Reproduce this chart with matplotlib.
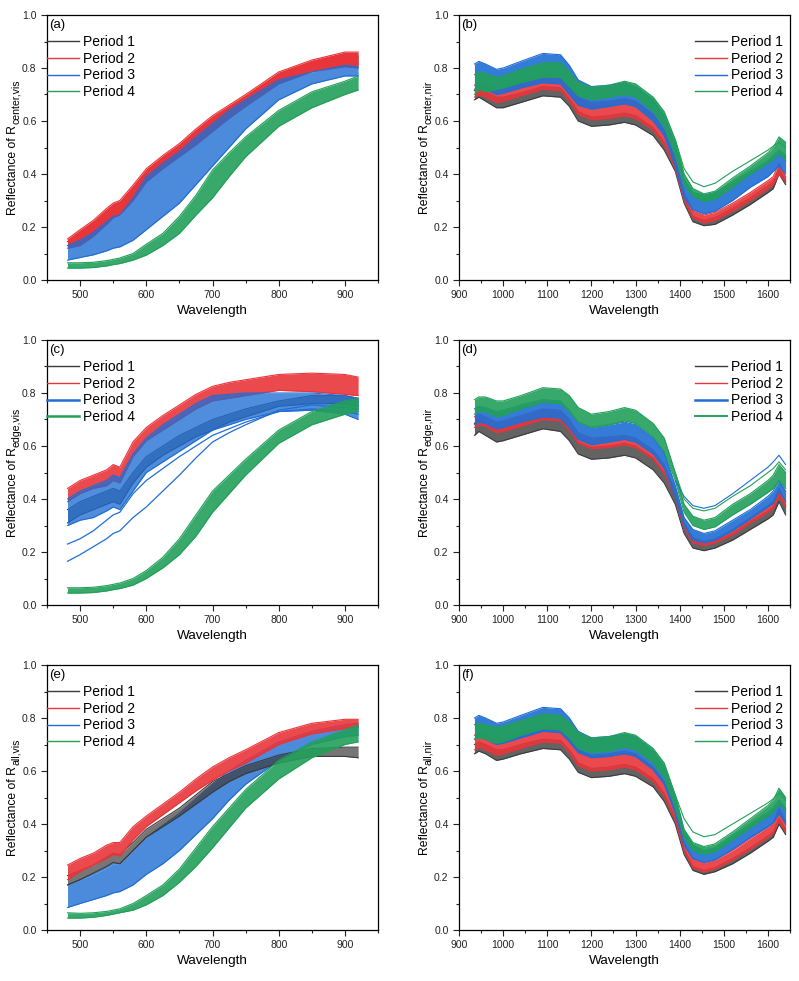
import numpy as np
import matplotlib
matplotlib.use('Agg')
from matplotlib import pyplot as plt
from matplotlib.lines import Line2D

plt.rcParams['font.family'] = ['Liberation Sans', 'DejaVu Sans']
plt.rcParams['mathtext.default'] = 'regular'

periods = ['Period 1', 'Period 2', 'Period 3', 'Period 4']
colores = ['#3c3c3c', '#e8353a', '#1f6ed4', '#22a05a']

# longitudes de onda
wl_vis = [481, 500, 520, 540, 550, 560, 580, 600, 625, 650, 675, 700, 725, 750, 800, 850, 900, 920]
wl_nir = [935, 945, 960, 985, 1000, 1040, 1090, 1130, 1150, 1170, 1200, 1240, 1275, 1300,
          1340, 1365, 1390, 1410, 1430, 1455, 1480, 1520, 1560, 1600, 1612, 1625, 1640]
wl_nir_cola = [1390, 1410, 1430, 1455, 1480, 1520, 1560, 1600, 1612, 1625, 1640]

# (a) R_center,vis : bordes inferior / superior de cada periodo
a_p1_lo = [0.13, 0.15, 0.185, 0.23, 0.25, 0.26, 0.32, 0.385, 0.435, 0.48, 0.53, 0.575, 0.625, 0.67, 0.755, 0.80, 0.82, 0.815]
a_p1_hi = [0.145, 0.17, 0.205, 0.25, 0.275, 0.285, 0.34, 0.405, 0.455, 0.50, 0.55, 0.60, 0.645, 0.685, 0.77, 0.815, 0.845, 0.845]
a_p2_lo = [0.12, 0.13, 0.165, 0.21, 0.235, 0.245, 0.30, 0.37, 0.42, 0.465, 0.51, 0.56, 0.61, 0.655, 0.74, 0.786, 0.805, 0.80]
a_p2_hi = [0.155, 0.19, 0.225, 0.27, 0.29, 0.30, 0.358, 0.42, 0.47, 0.515, 0.57, 0.62, 0.66, 0.70, 0.785, 0.83, 0.86, 0.86]
a_p3_lo = [0.075, 0.085, 0.095, 0.11, 0.12, 0.125, 0.15, 0.19, 0.24, 0.29, 0.36, 0.43, 0.50, 0.57, 0.68, 0.74, 0.77, 0.77]
a_p3_hi = [0.13, 0.15, 0.18, 0.22, 0.24, 0.245, 0.31, 0.39, 0.44, 0.485, 0.54, 0.59, 0.64, 0.68, 0.755, 0.785, 0.81, 0.805]
a_p4_lo = [0.045, 0.045, 0.047, 0.053, 0.058, 0.062, 0.075, 0.094, 0.13, 0.176, 0.245, 0.31, 0.39, 0.465, 0.58, 0.65, 0.70, 0.717]
a_p4_hi = [0.065, 0.065, 0.067, 0.073, 0.078, 0.083, 0.10, 0.135, 0.176, 0.24, 0.32, 0.415, 0.48, 0.54, 0.64, 0.71, 0.75, 0.77]

# (b) R_center,nir
b_p1_lo = [0.68, 0.69, 0.675, 0.65, 0.65, 0.67, 0.695, 0.69, 0.655, 0.60, 0.58, 0.585, 0.595, 0.585,
           0.545, 0.49, 0.41, 0.29, 0.22, 0.205, 0.21, 0.245, 0.285, 0.33, 0.345, 0.40, 0.36]
b_p1_hi = [0.715, 0.72, 0.71, 0.69, 0.69, 0.705, 0.73, 0.725, 0.685, 0.635, 0.615, 0.62, 0.63, 0.62,
           0.575, 0.52, 0.43, 0.31, 0.24, 0.225, 0.235, 0.27, 0.31, 0.355, 0.37, 0.42, 0.375]
b_p2_lo = [0.69, 0.70, 0.69, 0.67, 0.675, 0.695, 0.72, 0.715, 0.675, 0.625, 0.605, 0.61, 0.62, 0.61,
           0.565, 0.51, 0.42, 0.30, 0.235, 0.215, 0.225, 0.26, 0.30, 0.345, 0.36, 0.40, 0.37]
b_p2_hi = [0.735, 0.745, 0.735, 0.72, 0.725, 0.745, 0.77, 0.765, 0.73, 0.69, 0.67, 0.675, 0.685, 0.675,
           0.625, 0.565, 0.455, 0.33, 0.26, 0.245, 0.255, 0.29, 0.33, 0.375, 0.39, 0.44, 0.39]
b_p3_lo = [0.72, 0.73, 0.72, 0.70, 0.705, 0.725, 0.745, 0.74, 0.70, 0.66, 0.645, 0.655, 0.665, 0.655,
           0.60, 0.545, 0.43, 0.31, 0.265, 0.25, 0.26, 0.30, 0.35, 0.39, 0.41, 0.43, 0.40]
b_p3_hi = [0.815, 0.825, 0.815, 0.795, 0.80, 0.825, 0.855, 0.85, 0.81, 0.755, 0.73, 0.735, 0.745, 0.73,
           0.68, 0.62, 0.51, 0.38, 0.33, 0.32, 0.33, 0.37, 0.41, 0.45, 0.47, 0.49, 0.47]
b_p4_lo = [0.70, 0.72, 0.71, 0.72, 0.725, 0.745, 0.765, 0.765, 0.73, 0.695, 0.68, 0.69, 0.70, 0.69,
           0.635, 0.58, 0.47, 0.36, 0.315, 0.295, 0.305, 0.35, 0.40, 0.44, 0.455, 0.48, 0.45]
b_p4_hi = [0.775, 0.785, 0.78, 0.765, 0.77, 0.795, 0.82, 0.82, 0.785, 0.745, 0.728, 0.735, 0.75, 0.74,
           0.69, 0.635, 0.53, 0.40, 0.345, 0.325, 0.335, 0.385, 0.43, 0.48, 0.50, 0.54, 0.52]
b_p4_extra = [0.53, 0.42, 0.37, 0.352, 0.365, 0.41, 0.45, 0.49, 0.505, 0.52, 0.50]

# (c) R_edge,vis
c_p1_lo = [0.31, 0.34, 0.36, 0.38, 0.39, 0.38, 0.46, 0.52, 0.565, 0.60, 0.635, 0.66, 0.69, 0.71, 0.75, 0.76, 0.76, 0.75]
c_p1_hi = [0.36, 0.39, 0.41, 0.43, 0.44, 0.43, 0.50, 0.56, 0.60, 0.64, 0.67, 0.70, 0.72, 0.74, 0.77, 0.79, 0.79, 0.78]
c_p2_lo = [0.39, 0.42, 0.44, 0.45, 0.47, 0.46, 0.56, 0.62, 0.66, 0.70, 0.74, 0.77, 0.78, 0.79, 0.81, 0.805, 0.795, 0.79]
c_p2_hi = [0.44, 0.47, 0.49, 0.51, 0.53, 0.52, 0.616, 0.67, 0.715, 0.755, 0.795, 0.825, 0.84, 0.85, 0.87, 0.875, 0.87, 0.86]
c_p3_lo = [0.30, 0.32, 0.33, 0.355, 0.37, 0.36, 0.43, 0.50, 0.54, 0.58, 0.62, 0.66, 0.68, 0.70, 0.73, 0.735, 0.72, 0.70]
c_p3_hi = [0.40, 0.43, 0.45, 0.47, 0.49, 0.48, 0.57, 0.63, 0.68, 0.72, 0.76, 0.79, 0.795, 0.80, 0.80, 0.80, 0.79, 0.78]
c_p3_out1 = [0.23, 0.25, 0.28, 0.32, 0.34, 0.35, 0.42, 0.47, 0.515, 0.56, 0.60, 0.64, 0.665, 0.69, 0.73, 0.74, 0.73, 0.72]
c_p3_out2 = [0.165, 0.19, 0.22, 0.25, 0.27, 0.28, 0.33, 0.37, 0.43, 0.49, 0.555, 0.615, 0.65, 0.68, 0.735, 0.755, 0.745, 0.74]
c_p4_lo = [0.045, 0.045, 0.047, 0.053, 0.058, 0.062, 0.075, 0.10, 0.14, 0.19, 0.26, 0.35, 0.42, 0.49, 0.61, 0.68, 0.72, 0.73]
c_p4_hi = [0.065, 0.065, 0.067, 0.073, 0.078, 0.083, 0.10, 0.13, 0.18, 0.25, 0.34, 0.43, 0.49, 0.55, 0.66, 0.73, 0.77, 0.78]

# (d) R_edge,nir
d_p1_lo = [0.64, 0.655, 0.64, 0.615, 0.62, 0.64, 0.665, 0.655, 0.62, 0.57, 0.55, 0.555, 0.565, 0.555,
           0.51, 0.46, 0.38, 0.27, 0.215, 0.205, 0.215, 0.245, 0.285, 0.325, 0.34, 0.39, 0.34]
d_p1_hi = [0.685, 0.70, 0.685, 0.66, 0.665, 0.685, 0.705, 0.70, 0.665, 0.615, 0.595, 0.60, 0.61, 0.60,
           0.555, 0.50, 0.41, 0.30, 0.24, 0.23, 0.24, 0.27, 0.315, 0.355, 0.37, 0.42, 0.375]
d_p2_lo = [0.67, 0.68, 0.675, 0.65, 0.655, 0.675, 0.70, 0.695, 0.66, 0.61, 0.59, 0.595, 0.605, 0.595,
           0.55, 0.495, 0.41, 0.29, 0.235, 0.225, 0.235, 0.265, 0.31, 0.35, 0.365, 0.41, 0.37]
d_p2_hi = [0.71, 0.72, 0.71, 0.69, 0.695, 0.715, 0.74, 0.735, 0.70, 0.65, 0.63, 0.635, 0.64, 0.63,
           0.585, 0.53, 0.43, 0.31, 0.255, 0.24, 0.25, 0.285, 0.33, 0.375, 0.39, 0.44, 0.39]
d_p3_lo = [0.68, 0.69, 0.685, 0.665, 0.67, 0.69, 0.71, 0.705, 0.67, 0.625, 0.605, 0.615, 0.625, 0.615,
           0.57, 0.515, 0.41, 0.30, 0.245, 0.235, 0.245, 0.28, 0.325, 0.37, 0.385, 0.43, 0.39]
d_p3_hi = [0.74, 0.75, 0.745, 0.73, 0.735, 0.755, 0.775, 0.77, 0.735, 0.69, 0.67, 0.68, 0.69, 0.68,
           0.63, 0.575, 0.45, 0.33, 0.285, 0.27, 0.28, 0.32, 0.36, 0.41, 0.43, 0.47, 0.43]
d_p3_extra = [0.47, 0.41, 0.375, 0.365, 0.375, 0.42, 0.47, 0.52, 0.54, 0.565, 0.53]
d_p4_lo = [0.72, 0.73, 0.73, 0.71, 0.715, 0.74, 0.765, 0.76, 0.73, 0.69, 0.67, 0.68, 0.695, 0.685,
           0.635, 0.58, 0.47, 0.35, 0.30, 0.285, 0.295, 0.34, 0.38, 0.425, 0.44, 0.47, 0.44]
d_p4_hi = [0.775, 0.785, 0.785, 0.77, 0.77, 0.79, 0.82, 0.815, 0.79, 0.745, 0.72, 0.73, 0.745, 0.735,
           0.685, 0.63, 0.50, 0.38, 0.335, 0.32, 0.33, 0.38, 0.42, 0.47, 0.49, 0.53, 0.50]
d_p4_extra = [0.50, 0.40, 0.365, 0.355, 0.365, 0.41, 0.45, 0.50, 0.515, 0.54, 0.51]

# (e) R_all,vis
e_p1_lo = [0.17, 0.19, 0.215, 0.24, 0.255, 0.25, 0.30, 0.35, 0.39, 0.43, 0.475, 0.52, 0.56, 0.59, 0.63, 0.655, 0.655, 0.65]
e_p1_hi = [0.205, 0.225, 0.245, 0.275, 0.29, 0.285, 0.33, 0.38, 0.42, 0.46, 0.51, 0.56, 0.59, 0.62, 0.66, 0.685, 0.69, 0.69]
e_p2_lo = [0.19, 0.22, 0.245, 0.27, 0.285, 0.28, 0.34, 0.39, 0.435, 0.48, 0.525, 0.565, 0.60, 0.63, 0.70, 0.74, 0.76, 0.765]
e_p2_hi = [0.245, 0.27, 0.29, 0.32, 0.33, 0.33, 0.39, 0.43, 0.475, 0.52, 0.57, 0.615, 0.65, 0.68, 0.745, 0.78, 0.795, 0.795]
e_p3_lo = [0.085, 0.10, 0.115, 0.13, 0.14, 0.145, 0.17, 0.21, 0.25, 0.30, 0.36, 0.42, 0.49, 0.55, 0.64, 0.70, 0.73, 0.735]
e_p3_hi = [0.17, 0.19, 0.21, 0.235, 0.25, 0.25, 0.30, 0.35, 0.395, 0.44, 0.495, 0.55, 0.60, 0.64, 0.71, 0.75, 0.775, 0.78]
e_p4_lo = [0.045, 0.045, 0.048, 0.055, 0.06, 0.065, 0.075, 0.095, 0.13, 0.18, 0.24, 0.31, 0.385, 0.46, 0.57, 0.65, 0.70, 0.71]
e_p4_hi = [0.065, 0.063, 0.065, 0.07, 0.075, 0.08, 0.10, 0.13, 0.17, 0.23, 0.31, 0.39, 0.46, 0.53, 0.64, 0.71, 0.755, 0.775]

# (f) R_all,nir
f_p1_lo = [0.665, 0.675, 0.665, 0.64, 0.645, 0.665, 0.685, 0.68, 0.645, 0.595, 0.575, 0.58, 0.59, 0.58,
           0.54, 0.485, 0.40, 0.285, 0.225, 0.21, 0.22, 0.25, 0.29, 0.335, 0.35, 0.40, 0.36]
f_p1_hi = [0.70, 0.71, 0.70, 0.68, 0.68, 0.70, 0.72, 0.715, 0.68, 0.63, 0.61, 0.615, 0.625, 0.615,
           0.57, 0.515, 0.425, 0.305, 0.24, 0.225, 0.235, 0.27, 0.31, 0.355, 0.37, 0.42, 0.38]
f_p2_lo = [0.68, 0.69, 0.68, 0.66, 0.665, 0.685, 0.71, 0.705, 0.67, 0.62, 0.60, 0.605, 0.615, 0.605,
           0.56, 0.505, 0.415, 0.30, 0.235, 0.22, 0.23, 0.265, 0.305, 0.35, 0.365, 0.41, 0.37]
f_p2_hi = [0.735, 0.745, 0.735, 0.715, 0.72, 0.74, 0.765, 0.76, 0.725, 0.68, 0.66, 0.665, 0.675, 0.665,
           0.615, 0.56, 0.45, 0.33, 0.27, 0.255, 0.265, 0.30, 0.345, 0.39, 0.405, 0.46, 0.41]
f_p3_lo = [0.72, 0.73, 0.72, 0.70, 0.705, 0.725, 0.75, 0.745, 0.71, 0.67, 0.65, 0.655, 0.665, 0.655,
           0.605, 0.55, 0.44, 0.32, 0.27, 0.255, 0.265, 0.305, 0.35, 0.39, 0.405, 0.44, 0.40]
f_p3_hi = [0.80, 0.81, 0.80, 0.78, 0.785, 0.81, 0.84, 0.835, 0.80, 0.75, 0.725, 0.73, 0.74, 0.73,
           0.675, 0.615, 0.50, 0.37, 0.32, 0.30, 0.31, 0.355, 0.40, 0.445, 0.46, 0.49, 0.46]
f_p4_lo = [0.72, 0.725, 0.72, 0.705, 0.71, 0.735, 0.76, 0.755, 0.725, 0.685, 0.67, 0.675, 0.69, 0.68,
           0.63, 0.575, 0.465, 0.35, 0.30, 0.285, 0.295, 0.34, 0.385, 0.43, 0.445, 0.475, 0.45]
f_p4_hi = [0.775, 0.78, 0.775, 0.765, 0.77, 0.79, 0.815, 0.81, 0.785, 0.745, 0.725, 0.73, 0.745, 0.735,
           0.685, 0.63, 0.51, 0.38, 0.33, 0.315, 0.325, 0.37, 0.42, 0.47, 0.49, 0.535, 0.50]
f_p4_extra = [0.51, 0.42, 0.37, 0.352, 0.36, 0.40, 0.44, 0.48, 0.495, 0.52, 0.49]


def banda(ax, x, lo, hi, c, z, alfa=0.9):
    # cada periodo en su propia capa para que tape al anterior
    ax.fill_between(x, lo, hi, color=c, alpha=alfa, lw=0, zorder=z)
    ax.plot(x, lo, '-', color=c, lw=0.8, zorder=z + 0.1)
    ax.plot(x, hi, '-', color=c, lw=0.8, zorder=z + 0.1)


def estilo(ax, vis, etiqueta):
    if vis:
        ax.set_xlim(450, 950)
        ax.set_xticks([500, 600, 700, 800, 900])
        ax.set_xticks(np.arange(450, 951, 50), minor=True)
    else:
        ax.set_xlim(900, 1650)
        ax.set_xticks(np.arange(900, 1601, 100))
        ax.set_xticks(np.arange(900, 1651, 50), minor=True)
    ax.set_ylim(0, 1)
    ax.set_yticks(np.arange(0, 1.01, 0.2))
    ax.set_yticks(np.arange(0, 1.01, 0.1), minor=True)
    ax.yaxis.set_major_formatter(plt.FormatStrFormatter('%.1f'))
    ax.tick_params(which='both', direction='out', top=False, right=False, labelsize=7.5,
                   colors='#222222')
    ax.tick_params(which='major', length=4, width=0.8)
    ax.tick_params(which='minor', length=2, width=0.8)
    for s in ax.spines.values():
        s.set_linewidth(0.9)
        s.set_zorder(10)
    ax.set_xlabel('Wavelength', fontsize=9.7, labelpad=3)
    ax.text(0.006, 0.962, etiqueta, transform=ax.transAxes, fontsize=9.5, va='center', ha='left',
            zorder=10)


def leyenda(ax, vis, anchos):
    h = [Line2D([], [], color=c, lw=w) for c, w in zip(colores, anchos)]
    if vis:
        lg = ax.legend(h, periods, loc='upper left', bbox_to_anchor=(0.0, 0.925), frameon=False,
                       fontsize=10, handlelength=2.3, handletextpad=0.3, labelspacing=0.2,
                       borderpad=0, borderaxespad=0)
    else:
        lg = ax.legend(h, periods, loc='upper right', bbox_to_anchor=(0.98, 0.925), frameon=False,
                       fontsize=10, handlelength=2.3, handletextpad=0.3, labelspacing=0.2,
                       borderpad=0, borderaxespad=0)
    lg.set_zorder(20)


fig = plt.figure(figsize=(7.99, 9.81), dpi=100)
izq = [47 / 799, 459 / 799]
ancho = 331 / 799
alto = 265 / 981
bases = [1 - 280 / 981, 1 - 605 / 981, 1 - 930 / 981]

axa = fig.add_axes([izq[0], bases[0], ancho, alto])
axb = fig.add_axes([izq[1], bases[0], ancho, alto])
axc = fig.add_axes([izq[0], bases[1], ancho, alto])
axd = fig.add_axes([izq[1], bases[1], ancho, alto])
axe = fig.add_axes([izq[0], bases[2], ancho, alto])
axf = fig.add_axes([izq[1], bases[2], ancho, alto])

# (a)  el periodo 1 queda tapado por el 2
banda(axa, wl_vis, a_p1_lo, a_p1_hi, colores[0], 1, 0.7)
banda(axa, wl_vis, a_p2_lo, a_p2_hi, colores[1], 2, 1.0)
banda(axa, wl_vis, a_p3_lo, a_p3_hi, colores[2], 3, 0.8)
banda(axa, wl_vis, a_p4_lo, a_p4_hi, colores[3], 4)
estilo(axa, True, '(a)')
leyenda(axa, True, [1, 1, 1, 1])

# (b)
banda(axb, wl_nir, b_p1_lo, b_p1_hi, colores[0], 1, 0.8)
banda(axb, wl_nir, b_p2_lo, b_p2_hi, colores[1], 2)
banda(axb, wl_nir, b_p3_lo, b_p3_hi, colores[2], 3)
banda(axb, wl_nir, b_p4_lo, b_p4_hi, colores[3], 4)
axb.plot(wl_nir_cola, b_p4_extra, '-', color=colores[3], lw=0.8, zorder=5)
estilo(axb, False, '(b)')
leyenda(axb, False, [1, 1, 1, 1])

# (c)
banda(axc, wl_vis, c_p1_lo, c_p1_hi, colores[0], 1, 0.7)
banda(axc, wl_vis, c_p2_lo, c_p2_hi, colores[1], 2)
banda(axc, wl_vis, c_p3_lo, c_p3_hi, colores[2], 3, 0.78)
axc.plot(wl_vis, c_p3_out1, '-', color=colores[2], lw=0.9, zorder=3.2)
axc.plot(wl_vis, c_p3_out2, '-', color=colores[2], lw=0.9, zorder=3.2)
banda(axc, wl_vis, c_p4_lo, c_p4_hi, colores[3], 4)
estilo(axc, True, '(c)')
leyenda(axc, True, [1, 1, 1.8, 1.8])

# (d)
banda(axd, wl_nir, d_p1_lo, d_p1_hi, colores[0], 1, 0.8)
banda(axd, wl_nir, d_p2_lo, d_p2_hi, colores[1], 2)
banda(axd, wl_nir, d_p3_lo, d_p3_hi, colores[2], 3)
banda(axd, wl_nir, d_p4_lo, d_p4_hi, colores[3], 4)
axd.plot(wl_nir_cola, d_p3_extra, '-', color=colores[2], lw=0.8, zorder=5)
axd.plot(wl_nir_cola, d_p4_extra, '-', color=colores[3], lw=0.8, zorder=5)
estilo(axd, False, '(d)')
leyenda(axd, False, [1, 1, 1.8, 1.4])

# (e)
banda(axe, wl_vis, e_p3_lo, e_p3_hi, colores[2], 1, 0.8)
banda(axe, wl_vis, e_p1_lo, e_p1_hi, colores[0], 2, 0.7)
banda(axe, wl_vis, e_p2_lo, e_p2_hi, colores[1], 3)
banda(axe, wl_vis, e_p4_lo, e_p4_hi, colores[3], 4)
estilo(axe, True, '(e)')
leyenda(axe, True, [1, 1, 1, 1])

# (f)
banda(axf, wl_nir, f_p1_lo, f_p1_hi, colores[0], 1, 0.8)
banda(axf, wl_nir, f_p2_lo, f_p2_hi, colores[1], 2)
banda(axf, wl_nir, f_p3_lo, f_p3_hi, colores[2], 3)
banda(axf, wl_nir, f_p4_lo, f_p4_hi, colores[3], 4)
axf.plot(wl_nir_cola, f_p4_extra, '-', color=colores[3], lw=0.8, zorder=5)
estilo(axf, False, '(f)')
leyenda(axf, False, [1, 1, 1, 1])

# etiquetas del eje y: "Reflectance of R" + subindice grande (estilo Origin)
subindices = ['center,vis', 'center,nir', 'edge,vis', 'edge,nir', 'all,vis', 'all,nir']
ejes = [axa, axb, axc, axd, axe, axf]
fig.canvas.draw()
rend = fig.canvas.get_renderer()
H = fig.bbox.height
for ax, sub in zip(ejes, subindices):
    pos = ax.get_position()
    xb = pos.x0 * fig.bbox.width - 31          # linea base del texto principal (px)
    yc = (pos.y0 + pos.height / 2) * H         # centro vertical del eje (px)
    t1 = fig.text(0, 0, 'Reflectance of R', fontsize=8.7, rotation=90,
                  rotation_mode='anchor', ha='left', va='baseline')
    t2 = fig.text(0, 0, sub, fontsize=7.6, rotation=90,
                  rotation_mode='anchor', ha='left', va='baseline')
    l1 = t1.get_window_extent(rend).height
    l2 = t2.get_window_extent(rend).height
    y0 = yc - (l1 + l2) / 2
    t1.set_position((xb / fig.bbox.width, y0 / H))
    t2.set_position(((xb + 3) / fig.bbox.width, (y0 + l1 + 0.5) / H))

fig.savefig('out.png', dpi=100)
